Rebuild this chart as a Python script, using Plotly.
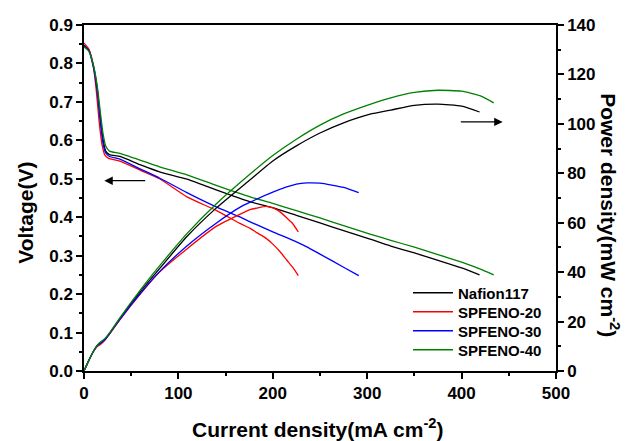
import plotly.graph_objects as go

# ---- data ----
names = ["Nafion117", "SPFENO-20", "SPFENO-30", "SPFENO-40"]
colors = ["#000000", "#ff0000", "#0000ff", "#008000"]

I_naf = [0, 5, 10, 14, 17, 20, 23, 27, 38, 60, 80, 109, 140, 176, 200, 225, 250, 275, 303, 325, 350, 375, 400, 419]
V_naf = [0.848, 0.836, 0.795, 0.735, 0.665, 0.605, 0.572, 0.563, 0.558, 0.536, 0.518, 0.499, 0.471, 0.440, 0.425,
         0.405, 0.385, 0.365, 0.343, 0.325, 0.307, 0.288, 0.268, 0.250]
P_naf = [0, 4.2, 8.0, 10.3, 11.3, 12.1, 13.2, 15.2, 21.2, 32.2, 41.4, 54.4, 65.9, 77.4, 85.0, 91.1, 96.3, 100.4,
         103.9, 105.6, 107.5, 108.0, 107.2, 104.8]

I_s20 = [0, 5, 10, 13, 16, 19, 22, 26, 38, 60, 80, 109, 140, 165, 176, 183, 193, 200, 207, 215, 221, 227]
V_s20 = [0.853, 0.838, 0.790, 0.730, 0.650, 0.590, 0.562, 0.553, 0.546, 0.522, 0.500, 0.453, 0.418, 0.384, 0.371,
         0.360, 0.345, 0.330, 0.312, 0.288, 0.270, 0.248]
P_s20 = [0, 4.2, 7.9, 9.5, 10.4, 11.2, 12.4, 14.4, 20.7, 31.3, 40.0, 49.4, 58.5, 63.4, 65.3, 65.9, 66.6, 66.0,
         64.6, 61.9, 59.7, 56.3]

I_s30 = [0, 5, 10, 14, 17, 20, 23, 27, 38, 60, 80, 109, 140, 165, 176, 200, 225, 236, 250, 275, 291]
V_s30 = [0.846, 0.834, 0.790, 0.728, 0.655, 0.595, 0.567, 0.558, 0.551, 0.525, 0.502, 0.464, 0.427, 0.401, 0.388,
         0.362, 0.336, 0.323, 0.304, 0.270, 0.248]
P_s30 = [0, 4.2, 7.9, 10.2, 11.1, 11.9, 13.0, 15.1, 20.9, 31.5, 40.2, 50.6, 59.8, 66.2, 68.3, 72.4, 75.6, 76.1,
         76.0, 74.3, 72.2]

I_s40 = [0, 5, 10, 14, 17, 20, 23, 27, 38, 60, 80, 109, 140, 176, 200, 225, 250, 275, 303, 325, 350, 375, 400, 420, 434]
V_s40 = [0.843, 0.832, 0.795, 0.742, 0.680, 0.620, 0.585, 0.572, 0.566, 0.548, 0.531, 0.510, 0.483, 0.453, 0.436,
         0.417, 0.398, 0.378, 0.356, 0.340, 0.322, 0.303, 0.283, 0.265, 0.250]
P_s40 = [0, 4.2, 8.0, 10.4, 11.6, 12.4, 13.5, 15.4, 21.5, 32.9, 42.5, 55.6, 67.6, 79.7, 87.2, 93.8, 99.5, 104.0,
         107.9, 110.5, 112.7, 113.6, 113.2, 111.3, 108.5]

currents = [I_naf, I_s20, I_s30, I_s40]
voltages = [V_naf, V_s20, V_s30, V_s40]
powers = [P_naf, P_s20, P_s30, P_s40]

FONT = "Liberation Sans"
legend_ids = ["legend", "legend2", "legend3", "legend4"]

fig = go.Figure()
for name, col, I, V, P, lg in zip(names, colors, currents, voltages, powers, legend_ids):
    fig.add_trace(go.Scatter(x=I, y=V, mode="lines", name=name, legendgroup=name, legend=lg,
                             line=dict(color=col, width=1.3, shape="spline", smoothing=0.5)))
    fig.add_trace(go.Scatter(x=I, y=P, mode="lines", name=name, legendgroup=name, legend=lg, showlegend=False,
                             yaxis="y2",
                             line=dict(color=col, width=1.3, shape="spline", smoothing=0.5)))

tickfont = dict(family=FONT, size=17, color="black", weight="bold")
titlefont = dict(family=FONT, size=21, color="black", weight="bold")

# one legend box per entry so the entry spacing can follow the reference
legend_rows_px = [293, 312, 331, 350]
legend_layout = {}
for lg, ypx in zip(legend_ids, legend_rows_px):
    legend_layout[lg] = dict(x=(408 - 84) / 472, y=(371 - ypx) / 346, xanchor="left", yanchor="middle",
                             font=dict(family=FONT, size=15, color="black", weight="bold"),
                             bgcolor="rgba(0,0,0,0)", itemwidth=40)

fig.update_layout(
    width=630, height=441,
    margin=dict(l=84, r=74, t=25, b=70),
    paper_bgcolor="white", plot_bgcolor="white",
    showlegend=True,
    xaxis=dict(range=[0, 500], dtick=100, showgrid=False, zeroline=False,
               showline=True, linecolor="black", linewidth=1.5, mirror=True,
               ticks="outside", ticklen=6, tickwidth=1.5, tickcolor="black",
               minor=dict(dtick=50, ticks="outside", ticklen=3, tickwidth=1.5, tickcolor="black"),
               tickfont=tickfont),
    yaxis=dict(range=[0, 0.9], dtick=0.1, tickformat=".1f", showgrid=False, zeroline=False,
               showline=True, linecolor="black", linewidth=1.5,
               ticks="outside", ticklen=6, tickwidth=1.5, tickcolor="black",
               minor=dict(dtick=0.05, ticks="outside", ticklen=3, tickwidth=1.5, tickcolor="black"),
               tickfont=tickfont),
    yaxis2=dict(range=[0, 140], dtick=20, overlaying="y", side="right", showgrid=False, zeroline=False,
                showline=True, linecolor="black", linewidth=1.5,
                ticks="outside", ticklen=6, tickwidth=1.5, tickcolor="black",
                minor=dict(dtick=10, ticks="outside", ticklen=3, tickwidth=1.5, tickcolor="black"),
                tickfont=tickfont),
    **legend_layout,
)

annotations = [
    dict(text="Current density(mA cm<sup>-2</sup>)", xref="paper", yref="paper", x=0.496, y=-0.165,
         showarrow=False, font=titlefont, xanchor="center", yanchor="middle"),
    dict(text="Voltage(V)", xref="paper", yref="paper", x=-0.123, y=0.457, textangle=-90,
         showarrow=False, font=titlefont, xanchor="center", yanchor="middle"),
    dict(text="Power density(mW cm<sup>-2</sup>)", xref="paper", yref="paper", x=1.114, y=0.451, textangle=90,
         showarrow=False, font=titlefont, xanchor="center", yanchor="middle"),
    # arrows indicating which axis the curves belong to
    dict(x=21.5, y=0.495, ax=66.4, ay=0.495, xref="x", yref="y", axref="x", ayref="y",
         text="", showarrow=True, arrowhead=2, arrowsize=1.3, arrowwidth=1.3, arrowcolor="black"),
    dict(x=443.5, y=100.8, ax=397.6, ay=100.8, xref="x", yref="y2", axref="x", ayref="y2",
         text="", showarrow=True, arrowhead=2, arrowsize=1.3, arrowwidth=1.3, arrowcolor="black"),
]
fig.update_layout(annotations=annotations)

fig.write_html("out.html", config={"displayModeBar": False},
               post_script="document.body.style.margin='0';")
